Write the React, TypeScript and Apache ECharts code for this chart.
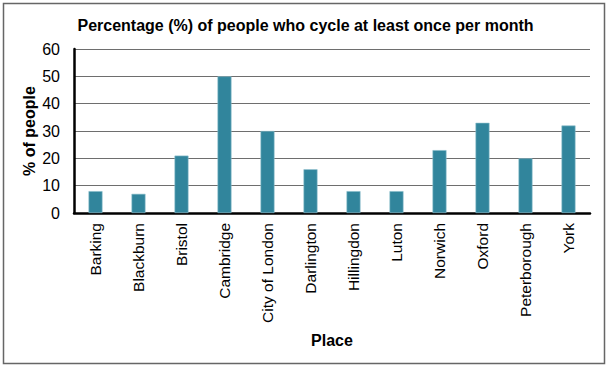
import React, { useEffect, useRef } from "react";
import * as echarts from "echarts";

const categories = ["Barking", "Blackburn", "Bristol", "Cambridge", "City of London", "Darlington", "Hillingdon", "Luton", "Norwich", "Oxford", "Peterborough", "York"];
const values = [8, 7, 21, 50, 30, 16, 8, 8, 23, 33, 20, 32];
const yTicks = { min: 0, max: 60, step: 10 };

export default function App() {
  const ref = useRef<HTMLDivElement>(null);
  useEffect(() => {
    document.body.style.margin = "0";
    const chart = echarts.init(ref.current!, null, { renderer: "svg" });
    const font = "Arial, 'Liberation Sans', sans-serif";
    chart.setOption({
      animation: false,
      backgroundColor: "#ffffff",
      title: {
        text: "Percentage (%) of people who cycle at least once per month",
        left: "center",
        top: 12,
        textStyle: { fontFamily: font, fontSize: 16, fontWeight: "bold", color: "#000" },
      },
      graphic: [
        {
          type: "rect",
          shape: { x: 3.5, y: 3.5, width: 601, height: 360 },
          style: { fill: "none", stroke: "#666", lineWidth: 1.5 },
          silent: true,
        },
      ],
      grid: { left: 74, right: 21, top: 49, bottom: 155, containLabel: false },
      xAxis: {
        type: "category",
        data: categories,
        name: "Place",
        nameLocation: "middle",
        nameGap: 119,
        nameMoveOverlap: false,
        nameTextStyle: { fontFamily: font, fontSize: 16, fontWeight: "bold", color: "#000" },
        axisLine: { lineStyle: { color: "#000", width: 2.5 } },
        axisTick: { show: false },
        axisLabel: { rotate: 90, interval: 0, margin: 10, fontFamily: font, fontSize: 15.5, color: "#000" },
      },
      yAxis: {
        type: "value",
        min: yTicks.min,
        max: yTicks.max,
        interval: yTicks.step,
        name: "% of people",
        nameLocation: "middle",
        nameGap: 37,
        nameMoveOverlap: false,
        nameTextStyle: { fontFamily: font, fontSize: 16, fontWeight: "bold", color: "#000" },
        axisLine: { show: true, lineStyle: { color: "#000", width: 2.5 } },
        axisTick: { show: false },
        axisLabel: { margin: 14, fontFamily: font, fontSize: 16, color: "#000" },
        splitLine: { lineStyle: { color: "#6e6e6e", width: 1 } },
      },
      series: [
        {
          type: "bar",
          data: values,
          barWidth: 14,
          itemStyle: { color: "#31859C", borderColor: "#8dbfcc", borderWidth: 0.6 },
        },
      ],
    });
    return () => chart.dispose();
  }, []);
  return <div ref={ref} style={{ width: 611, height: 368 }} />;
}
